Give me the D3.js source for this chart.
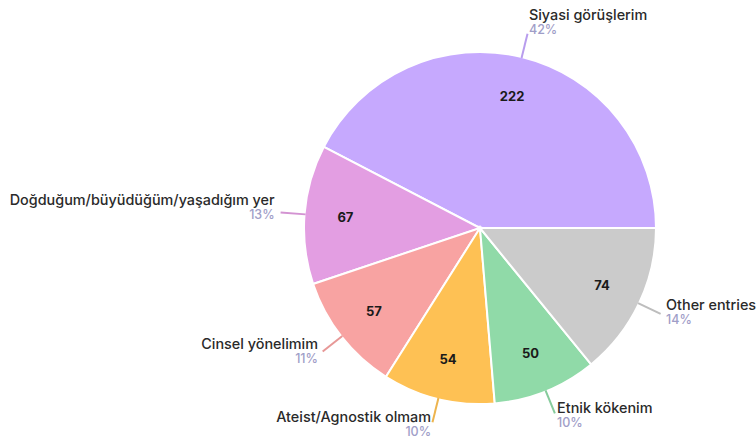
<!DOCTYPE html>
<html>
<head>
<meta charset="utf-8">
<script src="https://cdn.jsdelivr.net/npm/d3@7"></script>
<style>
  body { margin: 0; background: #fff; }
  svg text { font-family: Inter, Lato, "Noto Sans", sans-serif; }
</style>
</head>
<body>
<div id="container"></div>
<script>
const labels = ["Siyasi görüşlerim", "Doğduğum/büyüdüğüm/yaşadığım yer", "Cinsel yönelimim",
                "Ateist/Agnostik olmam", "Etnik kökenim", "Other entries"];
const values = [222, 67, 57, 54, 50, 74];
const percents = ["42%", "13%", "11%", "10%", "10%", "14%"];
const colors = ["#c6a9fe", "#e39ee2", "#f8a3a2", "#fec154", "#90daa8", "#cbcbcb"];

const width = 756, height = 444;
const cx = 480, cy = 228, radius = 176;

const svg = d3.select("#container").append("svg")
    .attr("width", width)
    .attr("height", height);

const g = svg.append("g").attr("transform", `translate(${cx},${cy})`);

// counter-clockwise, starting at 3 o'clock
const pieArcs = d3.pie().sort(null)
    .startAngle(Math.PI / 2)
    .endAngle(Math.PI / 2 - 2 * Math.PI)(values);

const arc = d3.arc().innerRadius(0).outerRadius(radius);

g.selectAll("path.slice")
    .data(pieArcs)
  .enter().append("path")
    .attr("class", "slice")
    .attr("d", arc)
    .attr("fill", (d, i) => colors[i])
    .attr("stroke", "#fff")
    .attr("stroke-width", 2);

const mid = d => (d.startAngle + d.endAngle) / 2;
const polar = (a, r) => [r * Math.sin(a), -r * Math.cos(a)];

// values inside
g.selectAll("text.val")
    .data(pieArcs)
  .enter().append("text")
    .attr("class", "val")
    .attr("x", d => polar(mid(d), 135)[0])
    .attr("y", d => polar(mid(d), 135)[1])
    .attr("dy", "0.35em")
    .attr("text-anchor", "middle")
    .attr("font-size", 13)
    .attr("font-weight", 700)
    .attr("fill", "#1a1a1a")
    .text(d => d.data);

// leader lines
g.selectAll("line.lead")
    .data(pieArcs)
  .enter().append("line")
    .attr("class", "lead")
    .attr("x1", d => polar(mid(d), radius - 1)[0])
    .attr("y1", d => polar(mid(d), radius - 1)[1])
    .attr("x2", d => polar(mid(d), 200)[0])
    .attr("y2", d => polar(mid(d), 200)[1])
    .attr("stroke", (d, i) => d3.color(colors[i]).darker(0.2))
    .attr("stroke-width", 2);

// outside labels
const lab = g.selectAll("g.lab")
    .data(pieArcs)
  .enter().append("g")
    .attr("class", "lab")
    .attr("transform", d => {
        const a = mid(d);
        const [ex, ey] = polar(a, 200);
        const sx = Math.sin(a), sy = -Math.cos(a);
        return `translate(${ex + 6 * sx},${ey - 7 + 7 * sy})`;
    });

lab.append("text")
    .attr("text-anchor", d => Math.sin(mid(d)) >= 0 ? "start" : "end")
    .attr("font-size", 14.4)
    .attr("font-weight", 500)
    .attr("fill", "#2a2a2a")
    .text((d, i) => labels[i]);

lab.append("text")
    .attr("y", 14)
    .attr("text-anchor", d => Math.sin(mid(d)) >= 0 ? "start" : "end")
    .attr("font-size", 12.5)
    .attr("font-weight", 500)
    .attr("fill", "#9f9ec8")
    .text((d, i) => percents[i]);
</script>
</body>
</html>
